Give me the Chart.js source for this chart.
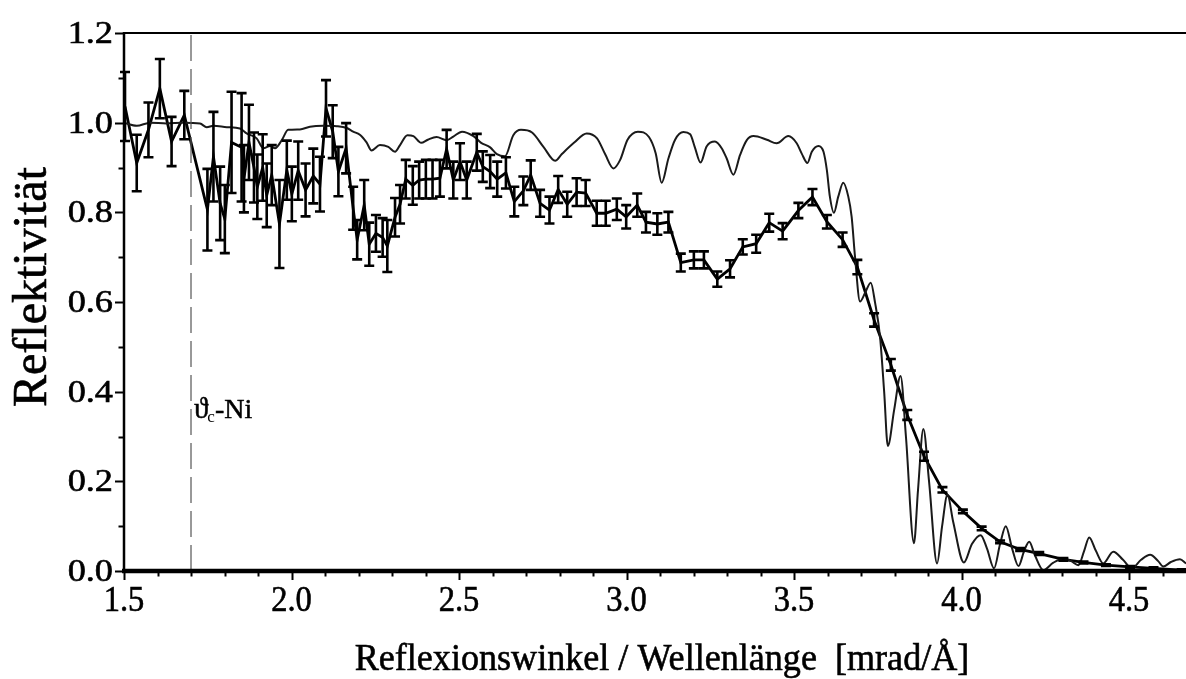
<!DOCTYPE html>
<html>
<head>
<meta charset="utf-8">
<script src="https://cdn.jsdelivr.net/npm/chart.js@4"></script>
<style>
  html, body { margin: 0; padding: 0; background: #fff; }
  canvas { display: block; }
</style>
</head>
<body>
<canvas id="myChart" width="1186" height="679"></canvas>
<script>
// simulated reflectivity (thin line)
var simX = [1.500,1.538,1.578,1.627,1.676,1.727,1.747,1.767,1.807,1.846,1.866,1.896,1.916,1.936,1.951,1.971,1.990,2.025,2.055,2.095,
  2.135,2.165,2.184,2.204,2.224,2.239,2.264,2.289,2.309,2.324,2.346,2.364,2.387,2.407,2.433,2.463,2.483,2.509,2.543,2.566,
  2.593,2.613,2.637,2.662,2.685,2.718,2.752,2.787,2.807,2.843,2.881,2.912,2.936,2.961,2.981,3.003,3.034,3.067,3.087,3.105,
  3.125,3.145,3.170,3.190,3.204,3.221,3.239,3.264,3.284,3.299,3.319,3.339,3.359,3.379,3.419,3.448,3.483,3.508,3.523,3.540,
  3.553,3.573,3.588,3.598,3.607,3.619,3.632,3.647,3.662,3.672,3.682,3.697,3.712,3.729,3.742,3.757,3.769,3.780,3.799,3.818,
  3.834,3.858,3.870,3.886,3.903,3.927,3.942,3.958,3.975,4.007,4.031,4.057,4.076,4.097,4.115,4.132,4.151,4.170,4.187,4.202,
  4.219,4.244,4.273,4.304,4.327,4.349,4.366,4.381,4.401,4.423,4.453,4.482,4.508,4.536,4.563,4.587,4.602,4.625,4.652,4.670];
var simY = [1.000,0.993,1.000,0.998,1.000,0.998,0.990,0.993,0.990,0.987,0.976,0.965,0.943,0.948,0.943,0.961,0.984,0.985,0.991,0.993,
  0.992,0.988,0.980,0.973,0.956,0.938,0.950,0.946,0.935,0.950,0.972,0.970,0.955,0.962,0.968,0.961,0.969,0.980,0.970,0.955,
  0.945,0.930,0.925,0.972,0.984,0.978,0.946,0.915,0.930,0.955,0.976,0.965,0.930,0.898,0.917,0.962,0.980,0.968,0.932,0.866,
  0.920,0.962,0.979,0.974,0.945,0.911,0.947,0.958,0.943,0.920,0.884,0.928,0.961,0.970,0.962,0.954,0.970,0.954,0.931,0.910,
  0.935,0.948,0.935,0.894,0.835,0.799,0.835,0.866,0.835,0.790,0.701,0.601,0.620,0.643,0.598,0.520,0.400,0.279,0.360,0.435,
  0.300,0.062,0.180,0.317,0.200,0.017,0.100,0.170,0.110,0.019,0.060,0.080,0.050,0.006,0.060,0.100,0.050,0.011,0.045,0.065,
  0.035,0.002,0.018,0.028,0.022,0.013,0.045,0.075,0.045,0.017,0.043,0.025,0.006,0.025,0.036,0.022,0.010,0.020,0.026,0.017];

// measured reflectivity with errors (thick line)
var measX = [1.503,1.538,1.573,1.607,1.642,1.680,1.749,1.767,1.787,1.801,1.821,1.851,1.858,1.873,1.888,1.898,1.914,1.926,1.941,1.964,
  1.986,2.001,2.020,2.042,2.065,2.085,2.103,2.123,2.140,2.163,2.184,2.196,2.217,2.232,2.252,2.272,2.286,2.309,2.324,2.341,
  2.362,2.381,2.401,2.421,2.443,2.463,2.483,2.503,2.523,2.553,2.571,2.593,2.614,2.640,2.665,2.692,2.714,2.742,2.770,2.796,
  2.823,2.851,2.878,2.911,2.938,2.971,2.999,3.032,3.058,3.092,3.125,3.162,3.201,3.231,3.271,3.309,3.347,3.387,3.426,3.466,
  3.513,3.555,3.598,3.645,3.689,3.739,3.789,3.838,3.888,3.943,4.004,4.060,4.115,4.175,4.232,4.304,4.364,4.431,4.503,4.573,4.657];
var measY = [1.036,0.910,0.984,1.076,0.958,1.017,0.806,0.924,0.820,0.785,0.956,0.945,0.875,0.956,0.900,0.857,0.900,0.838,0.883,0.774,
  0.894,0.841,0.893,0.850,0.881,0.863,1.032,0.980,0.891,0.943,0.809,0.739,0.816,0.729,0.753,0.744,0.725,0.789,0.818,0.874,
  0.860,0.872,0.874,0.874,0.876,0.941,0.872,0.913,0.872,0.934,0.902,0.891,0.874,0.888,0.824,0.848,0.883,0.820,0.805,0.851,
  0.818,0.845,0.843,0.798,0.798,0.807,0.790,0.816,0.778,0.774,0.778,0.688,0.694,0.694,0.651,0.674,0.723,0.730,0.777,0.758,
  0.804,0.834,0.779,0.739,0.678,0.560,0.460,0.348,0.256,0.181,0.133,0.095,0.065,0.048,0.039,0.026,0.019,0.013,0.009,0.006,0.002];
var measErr = [0.077,0.063,0.061,0.066,0.055,0.054,0.091,0.100,0.082,0.076,0.113,0.121,0.075,0.084,0.078,0.072,0.074,0.071,0.067,0.098,
  0.066,0.061,0.065,0.059,0.061,0.061,0.063,0.059,0.055,0.056,0.048,0.044,0.056,0.048,0.041,0.043,0.058,0.043,0.043,0.043,
  0.043,0.041,0.043,0.043,0.041,0.043,0.041,0.041,0.041,0.041,0.034,0.037,0.039,0.035,0.033,0.032,0.033,0.030,0.030,0.030,
  0.028,0.031,0.029,0.028,0.028,0.024,0.026,0.026,0.023,0.024,0.023,0.020,0.019,0.019,0.017,0.019,0.017,0.020,0.020,0.018,
  0.017,0.018,0.015,0.016,0.016,0.015,0.013,0.011,0.010,0.006,0.004,0.004,0.003,0.003,0.003,0.003,0.002,0.002,0.002,0.002,0.002];

var critAngle = 1.7;   // theta_c of Ni
var xTickLabels = ["1.5","2.0","2.5","3.0","3.5","4.0","4.5"];
var yTickLabels = ["0.0","0.2","0.4","0.6","0.8","1.0","1.2"];

var serif = "'Liberation Serif', 'Times New Roman', serif";

function pts(xs, ys) {
  return xs.map(function (x, i) { return { x: x, y: ys[i] }; });
}

// text with a horizontal stretch factor, slightly emboldened
function drawText(ctx, text, x, y, size, sx, align, rot) {
  ctx.save();
  ctx.font = size + "px " + serif;
  ctx.translate(x, y);
  if (rot) ctx.rotate(rot);
  ctx.scale(sx, 1);
  ctx.textAlign = align;
  ctx.textBaseline = "alphabetic";
  ctx.fillStyle = "#000";
  ctx.strokeStyle = "#000";
  ctx.lineWidth = 0.6;
  ctx.fillText(text, 0, 0);
  ctx.strokeText(text, 0, 0);
  ctx.restore();
}

var frame = {
  id: "frame",
  afterDatasetsDraw: function (chart) {
    var ctx = chart.ctx, a = chart.chartArea;
    var xs = chart.scales.x, ys = chart.scales.y;
    var i, v, px, py;

    // error bars of the measurement
    ctx.save();
    ctx.strokeStyle = "#000";
    ctx.lineWidth = 2.6;
    for (i = 0; i < measX.length; i++) {
      px = xs.getPixelForValue(measX[i]);
      var top = ys.getPixelForValue(measY[i] + measErr[i]);
      var bot = ys.getPixelForValue(measY[i] - measErr[i]);
      ctx.beginPath();
      ctx.moveTo(px, top); ctx.lineTo(px, bot);
      ctx.moveTo(px - 5, top); ctx.lineTo(px + 5, top);
      ctx.moveTo(px - 5, bot); ctx.lineTo(px + 5, bot);
      ctx.stroke();
    }
    ctx.restore();

    ctx.save();
    ctx.strokeStyle = "#000";
    // top frame line
    ctx.lineWidth = 2;
    ctx.beginPath(); ctx.moveTo(a.left, a.top); ctx.lineTo(a.right, a.top); ctx.stroke();
    // left axis
    ctx.lineWidth = 2.5;
    ctx.beginPath(); ctx.moveTo(a.left, a.top - 1); ctx.lineTo(a.left, a.bottom + 2); ctx.stroke();
    // bottom axis
    ctx.lineWidth = 4.5;
    ctx.beginPath(); ctx.moveTo(a.left - 2, a.bottom); ctx.lineTo(a.right, a.bottom); ctx.stroke();

    // x ticks every 0.1, long ones every 0.5
    ctx.lineWidth = 2;
    for (i = 15; i <= 46; i++) {
      v = i / 10;
      px = Math.round(xs.getPixelForValue(v)) + 0.5;
      ctx.beginPath();
      ctx.moveTo(px, a.bottom);
      ctx.lineTo(px, a.bottom + (i % 5 === 0 ? 9 : 5.5));
      ctx.stroke();
    }
    // y ticks every 0.1, long ones every 0.2
    for (i = 0; i <= 12; i++) {
      py = Math.round(ys.getPixelForValue(i / 10)) + 0.5;
      ctx.beginPath();
      ctx.moveTo(a.left, py);
      ctx.lineTo(a.left - (i % 2 === 0 ? 9 : 5.5), py);
      ctx.stroke();
    }
    ctx.restore();

    // tick labels
    xTickLabels.forEach(function (t) {
      drawText(ctx, t, xs.getPixelForValue(parseFloat(t)), a.bottom + 40, 35, 0.93, "center");
    });
    yTickLabels.forEach(function (t) {
      drawText(ctx, t, a.left - 11, ys.getPixelForValue(parseFloat(t)) + 10, 31, 1.17, "right");
    });

    // axis titles
    drawText(ctx, "Reflexionswinkel / Wellenl\u00e4nge  [mrad/\u00c5]", 662, 670, 38, 0.95, "center");
    drawText(ctx, "Reflektivit\u00e4t", 46, 287, 48, 1, "center", -Math.PI / 2);

    // critical angle label
    px = xs.getPixelForValue(critAngle) + 3;
    py = ys.getPixelForValue(0.341);
    ctx.save();
    ctx.fillStyle = "#000";
    ctx.strokeStyle = "#000";
    ctx.lineWidth = 0.5;
    ctx.textBaseline = "alphabetic";
    ctx.font = "29px " + serif;
    ctx.fillText("\u03d1", px, py);
    ctx.strokeText("\u03d1", px, py);
    var w1 = ctx.measureText("\u03d1").width;
    ctx.font = "17px " + serif;
    ctx.fillText("c", px + w1 - 1, py + 4);
    var w2 = ctx.measureText("c").width;
    ctx.font = "28px " + serif;
    ctx.fillText("-Ni", px + w1 + w2 - 1, py);
    ctx.strokeText("-Ni", px + w1 + w2 - 1, py);
    ctx.restore();
  }
};

var chart = new Chart(document.getElementById("myChart"), {
  type: "scatter",
  data: {
    datasets: [
      {
        label: "theta_c",
        data: [{ x: critAngle, y: 0 }, { x: critAngle, y: 1.2 }],
        showLine: true,
        borderColor: "#555",
        borderWidth: 1.2,
        borderDash: [26, 8],
        pointRadius: 0
      },
      {
        label: "Simulation",
        data: pts(simX, simY),
        showLine: true,
        borderColor: "#1a1a1a",
        borderWidth: 2,
        cubicInterpolationMode: "monotone",
        pointRadius: 0
      },
      {
        label: "Messung",
        data: pts(measX, measY),
        showLine: true,
        borderColor: "#000",
        borderWidth: 2.8,
        pointRadius: 0
      }
    ]
  },
  options: {
    responsive: false,
    animation: false,
    devicePixelRatio: 1,
    layout: { padding: { top: 33, right: 0, left: 0, bottom: 0 } },
    plugins: { legend: { display: false }, tooltip: { enabled: false } },
    scales: {
      x: {
        type: "linear",
        min: 1.5,
        max: 4.67,
        grid: { display: false, drawTicks: false },
        border: { display: false },
        ticks: { display: false },
        afterFit: function (s) { s.height = 108; }
      },
      y: {
        type: "linear",
        min: 0,
        max: 1.2,
        grid: { display: false, drawTicks: false },
        border: { display: false },
        ticks: { display: false },
        afterFit: function (s) { s.width = 124; }
      }
    }
  },
  plugins: [frame]
});
</script>
</body>
</html>
